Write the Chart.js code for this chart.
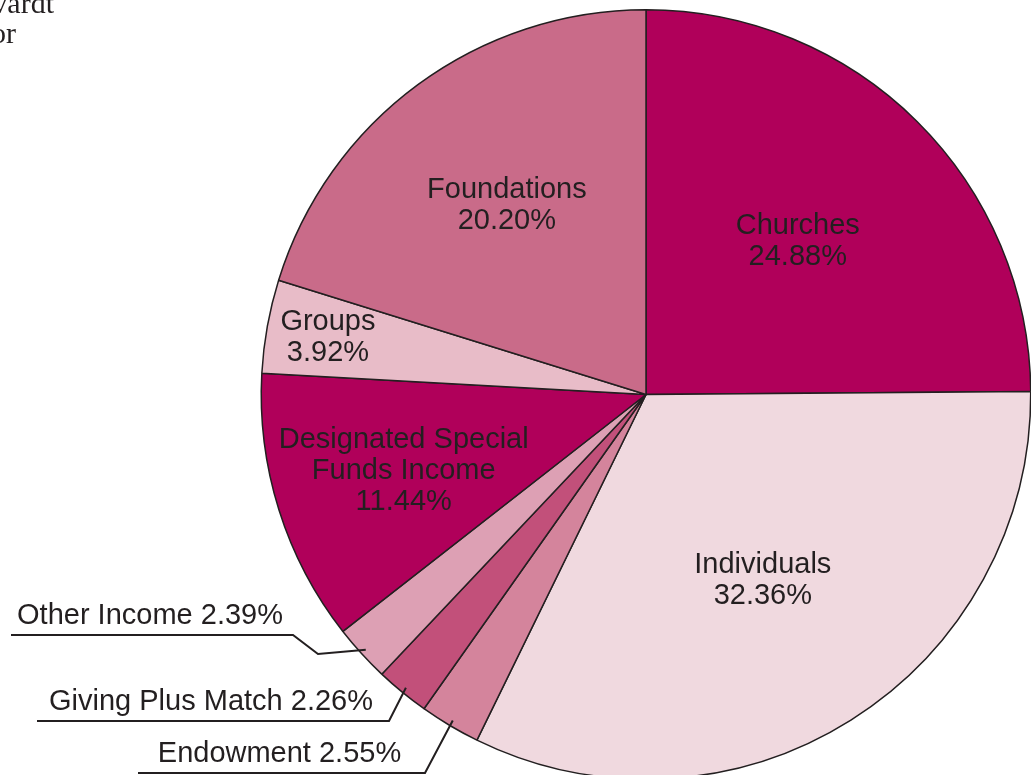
<!DOCTYPE html>
<html>
<head>
<meta charset="utf-8">
<script src="https://cdn.jsdelivr.net/npm/chart.js@4/dist/chart.umd.min.js"></script>
<style>
  html, body { margin: 0; padding: 0; background: #fff; overflow: hidden; }
  #wrap { position: absolute; left: 0; top: 0; width: 1100px; height: 850px; }
</style>
</head>
<body>
<div id="wrap"><canvas id="chart"></canvas></div>
<script>
// income sources, clockwise from 12 o'clock
var sources = ['Churches', 'Individuals', 'Endowment', 'Giving Plus Match',
  'Other Income', 'Designated Special Funds Income', 'Groups', 'Foundations'];
var shares = [24.88, 32.36, 2.55, 2.26, 2.39, 11.44, 3.92, 20.20];
var sliceColors = ['#b0005a', '#f0d9df', '#d4849c', '#c2507a',
  '#dda0b4', '#b0005a', '#e8bcc8', '#c96b89'];

var ink = '#231f20';
var font = '29px "Liberation Sans", Arial, sans-serif';

// labels drawn inside the slice: index -> lines, distance along mid angle (fraction of radius)
var insideLabels = [
  { i: 0, lines: ['Churches'], f: 0.56 },
  { i: 1, lines: ['Individuals'], f: 0.57 },
  { i: 5, lines: ['Designated Special', 'Funds Income'], f: 0.66 },
  { i: 6, lines: ['Groups'], f: 0.84 },
  { i: 7, lines: ['Foundations'], f: 0.61 }
];
// labels outside with a leader line; path goes from the slice edge to the underline
var outsideLabels = [
  { i: 4, path: [[318, 654], [293, 635], [11, 635]] },
  { i: 3, path: [[389, 721], [37, 721]] },
  { i: 2, path: [[425, 773], [138, 773]] }
];

function pct(v) { return v.toFixed(2) + '%'; }

var labelPlugin = {
  id: 'sliceLabels',
  afterDatasetsDraw: function(chart) {
    var ctx = chart.ctx;
    var arcs = chart.getDatasetMeta(0).data;
    ctx.save();
    ctx.fillStyle = ink;
    ctx.font = font;
    ctx.textAlign = 'center';
    ctx.textBaseline = 'middle';

    insideLabels.forEach(function(l) {
      var a = arcs[l.i];
      var mid = (a.startAngle + a.endAngle) / 2;
      var cx = a.x + Math.cos(mid) * a.outerRadius * l.f;
      var cy = a.y + Math.sin(mid) * a.outerRadius * l.f;
      var lines = l.lines.concat([pct(shares[l.i])]);
      lines.forEach(function(t, k) {
        ctx.fillText(t, cx, cy + (k - (lines.length - 1) / 2) * 31);
      });
    });

    ctx.strokeStyle = ink;
    ctx.lineWidth = 2;
    outsideLabels.forEach(function(l) {
      var a = arcs[l.i];
      var mid = (a.startAngle + a.endAngle) / 2;
      var sx = a.x + Math.cos(mid) * a.outerRadius * 0.985;
      var sy = a.y + Math.sin(mid) * a.outerRadius * 0.985;
      ctx.beginPath();
      ctx.moveTo(sx, sy);
      l.path.forEach(function(p) { ctx.lineTo(p[0], p[1]); });
      ctx.stroke();
      var n = l.path.length;
      var x0 = l.path[n - 1][0], x1 = l.path[n - 2][0], uy = l.path[n - 1][1];
      ctx.textBaseline = 'alphabetic';
      ctx.fillText(sources[l.i] + ' ' + pct(shares[l.i]), (x0 + x1) / 2 - 2, uy - 11);
    });

    // clipped text from the page this chart was cut from
    ctx.font = '30px "Liberation Serif", "DejaVu Serif", serif';
    ctx.textAlign = 'right';
    ctx.fillText('vardt', 54, 13);
    ctx.fillText('or', 16, 43);
    ctx.restore();
  }
};

var ctx = document.getElementById('chart').getContext('2d');
var chart = new Chart(ctx, {
  type: 'pie',
  data: {
    labels: sources,
    datasets: [{
      data: shares,
      backgroundColor: sliceColors,
      borderColor: ink,
      borderWidth: 1.5
    }]
  },
  options: {
    responsive: true,
    maintainAspectRatio: false,
    animation: false,
    layout: { padding: { left: 260, top: 9, right: 68, bottom: 70 } },
    plugins: {
      legend: { display: false },
      tooltip: { enabled: false }
    }
  },
  plugins: [labelPlugin]
});
</script>
</body>
</html>
